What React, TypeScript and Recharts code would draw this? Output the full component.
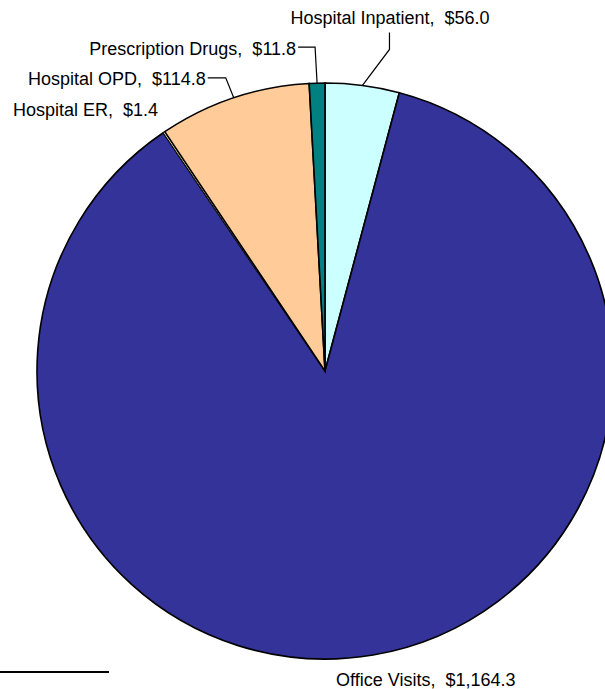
import { Cell, Pie, PieChart } from "recharts";

const categories = ["Hospital Inpatient", "Office Visits", "Hospital ER", "Hospital OPD", "Prescription Drugs"];
const spending = [56.0, 1164.3, 1.4, 114.8, 11.8];
const valueLabels = ["$56.0", "$1,164.3", "$1.4", "$114.8", "$11.8"];
const colors = ["#ccffff", "#333399", "#ffffcc", "#ffcc99", "#008080"];

// label placement relative to the slice edge point (dx/dy of elbow, text anchor)
const labelLayout: Record<string, { elbow?: [number, number]; end?: [number, number]; text: [number, number]; anchor: "start" | "end" }> = {
  "Hospital Inpatient": { elbow: [27, -36], end: [27, -53], text: [-72, -61], anchor: "start" },
  "Office Visits": { text: [-37, 31], anchor: "start" },
  "Hospital ER": { text: [-151, -16], anchor: "start" },
  "Hospital OPD": { elbow: [-8, -20], end: [-26, -20], text: [-28, -13], anchor: "end" },
  "Prescription Drugs": { elbow: [-2, -36], end: [-19, -36], text: [-21, -28], anchor: "end" }
};

const data = categories.map((name, i) => ({ name, value: spending[i], label: valueLabels[i] }));

const RADIAN = Math.PI / 180;

function SliceLabel(props: any) {
  const { cx, cy, midAngle, outerRadius, name, payload } = props;
  const layout = labelLayout[name];
  if (!layout) return null;
  const px = cx + outerRadius * Math.cos(-midAngle * RADIAN);
  const py = cy + outerRadius * Math.sin(-midAngle * RADIAN);
  const text = `${name},\u00a0\u00a0${payload.label ?? props.label}`;
  return (
    <g>
      {layout.elbow && layout.end ? (
        <polyline
          points={`${px},${py} ${px + layout.elbow[0]},${py + layout.elbow[1]} ${px + layout.end[0]},${py + layout.end[1]}`}
          fill="none"
          stroke="#000"
          strokeWidth={1.2}
        />
      ) : null}
      <text
        x={px + layout.text[0]}
        y={py + layout.text[1]}
        textAnchor={layout.anchor}
        fill="#000"
        fontSize={18}
        fontFamily="Liberation Sans, Arial, sans-serif"
      >
        {text}
      </text>
    </g>
  );
}

export default function App() {
  return (
    <div style={{ position: "absolute", left: 0, top: 0, width: 605, height: 689, background: "#fff" }}>
      <PieChart width={605} height={689} margin={{ top: 0, right: 0, bottom: 0, left: 0 }}>
        <Pie
          data={data}
          dataKey="value"
          nameKey="name"
          cx={325}
          cy={371}
          outerRadius={288}
          startAngle={90}
          endAngle={-270}
          stroke="#000"
          strokeWidth={1.6}
          label={SliceLabel}
          labelLine={false}
          isAnimationActive={false}
        >
          {data.map((d, i) => (
            <Cell key={d.name} fill={colors[i]} strokeWidth={d.name === "Hospital ER" ? 0.8 : 1.6} />
          ))}
        </Pie>
      </PieChart>
      <div style={{ position: "absolute", left: 0, top: 671, width: 109, height: 2, background: "#000" }} />
    </div>
  );
}
